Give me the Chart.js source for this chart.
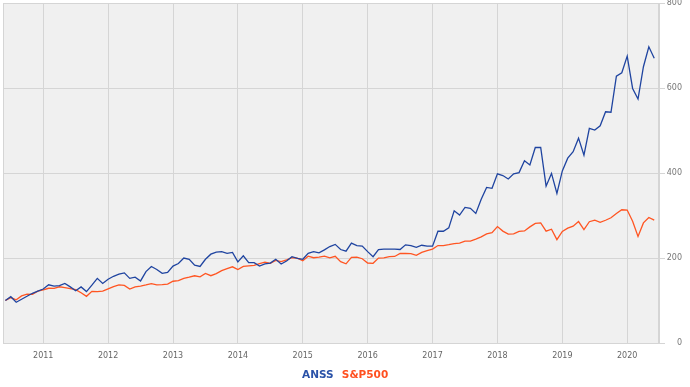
<!DOCTYPE html>
<html>
<head>
<meta charset="utf-8">
<script src="https://cdn.jsdelivr.net/npm/chart.js@4.4.0/dist/chart.umd.min.js"></script>
<style>
html, body { margin: 0; padding: 0; background: #fff; }
</style>
</head>
<body>
<canvas id="myChart" width="690" height="387"></canvas>
<script>
// monthly values, Jun 2010 .. Jun 2020, indexed to 100 at the start
const startYear = 2010
const startMonth = 6
const yearTicks = [2011, 2012, 2013, 2014, 2015, 2016, 2017, 2018, 2019, 2020]
const valueTicks = [0, 200, 400, 600, 800]

const anss = [
    100, 109, 96, 103, 110, 117, 122, 127, 137, 134,
    135, 140, 132, 123, 132, 121, 136, 152, 140, 150,
    157, 162, 165, 152, 155, 146, 168, 180, 173, 164,
    166, 181, 187, 200, 197, 183, 180, 197, 209, 214,
    215, 211, 213, 191, 205, 189, 189, 181, 186, 188,
    197, 186, 193, 203, 199, 197, 211, 215, 212, 219,
    227, 232, 220, 216, 235, 229, 228, 215, 203, 220,
    221, 221, 221, 220, 231, 229, 225, 230, 228, 228,
    263, 263, 271, 311, 301, 319, 317, 305, 338, 366,
    364, 398, 394, 386, 398, 401, 429, 419, 460, 460,
    369, 399, 352, 405, 435, 450, 482, 442, 505, 501,
    511, 544, 543, 628, 636, 675, 599, 574, 650, 697,
    670
]

const sp500 = [
    100.0, 106.9, 101.8, 110.7, 114.8, 114.5, 122.0,
    124.8, 128.8, 128.6, 132.3, 130.5, 128.1, 125.4, 118.3, 109.8, 121.6, 121.0, 122.0,
    127.3, 132.5, 136.7, 135.6, 127.1, 132.2, 133.8, 136.5, 139.8, 137.0, 137.4, 138.4,
    145.3, 147.0, 152.2, 155.0, 158.2, 155.8, 163.6, 158.4, 163.1, 170.4, 175.2, 179.3,
    172.9, 180.4, 181.7, 182.8, 186.6, 190.2, 187.3, 194.4, 191.4, 195.8, 200.6, 199.8,
    193.6, 204.2, 200.6, 202.3, 204.5, 200.2, 204.1, 191.3, 186.3, 201.7, 201.8, 198.3,
    188.2, 187.5, 199.8, 200.4, 203.4, 203.6, 210.9, 210.6, 210.4, 206.3, 213.3, 217.2,
    221.1, 229.3, 229.2, 231.3, 234.0, 235.1, 239.7, 239.8, 244.4, 249.9, 256.9, 259.4,
    274.0, 263.3, 256.2, 256.9, 262.5, 263.7, 273.2, 281.5, 282.7, 263.1, 267.8, 243.2,
    262.4, 270.2, 275.0, 285.8, 267.0, 285.4, 289.2, 283.9, 288.8, 294.7, 304.7, 313.5,
    312.9, 286.6, 250.8, 282.6, 295.4, 289.0
]

const monthToYear = (i) => startYear + (startMonth - 1 + i) / 12
const toPoints = (arr) => arr.map((v, i) => ({ x: monthToYear(i), y: v }))

const gridColor = '#d5d5d5'
const tickFont = { family: 'DejaVu Sans', size: 8 }

// grey plot background and frame
const plotFrame = {
    id: 'plotFrame',
    beforeDraw(chart) {
        const { ctx, chartArea: a } = chart
        ctx.save()
        ctx.fillStyle = '#f0f0f0'
        ctx.fillRect(a.left, a.top, a.right - a.left, a.bottom - a.top)
        ctx.restore()
    },
    beforeDatasetsDraw(chart) {
        const { ctx, chartArea: a } = chart
        ctx.save()
        ctx.strokeStyle = gridColor
        ctx.lineWidth = 1
        ctx.strokeRect(a.left + 0.5, a.top + 0.5, a.right - a.left - 1, a.bottom - a.top)
        ctx.restore()
    }
}

const ctx = document.getElementById('myChart').getContext('2d')
const myChart = new Chart(ctx, {
    type: 'line',
    data: {
        datasets: [{
            label: 'ANSS',
            data: toPoints(anss),
            borderColor: '#1f44a0',
            legendColor: '#2a52a8',
            borderWidth: 1.3,
            pointRadius: 0,
            tension: 0
        }, {
            label: 'S&P500',
            data: toPoints(sp500),
            borderColor: '#ff5522',
            legendColor: '#ff5020',
            borderWidth: 1.3,
            pointRadius: 0,
            tension: 0
        }]
    },
    options: {
        responsive: false,
        animation: false,
        devicePixelRatio: 1,
        layout: { padding: { top: 3, left: 3, right: 8, bottom: 0 } },
        plugins: {
            tooltip: { enabled: false },
            legend: {
                position: 'bottom',
                maxHeight: 20,
                labels: {
                    boxWidth: 0,
                    boxHeight: 0,
                    padding: 3,
                    font: { family: 'DejaVu Sans', size: 10.5, weight: 'bold' },
                    generateLabels: (chart) => chart.data.datasets.map((d, i) => ({
                        text: d.label,
                        fontColor: d.legendColor,
                        fillStyle: 'rgba(0,0,0,0)',
                        strokeStyle: 'rgba(0,0,0,0)',
                        lineWidth: 0,
                        hidden: false,
                        datasetIndex: i
                    }))
                }
            }
        },
        scales: {
            x: {
                type: 'linear',
                min: 2010.38,
                max: 2020.49,
                afterFit: (s) => { s.height = 24; s.paddingLeft = 0; s.paddingRight = 0 },
                afterBuildTicks: (s) => { s.ticks = yearTicks.map(v => ({ value: v })) },
                grid: { color: gridColor, drawTicks: false },
                border: { color: gridColor },
                ticks: {
                    padding: 8,
                    color: '#666',
                    font: tickFont,
                    maxRotation: 0,
                    autoSkip: false,
                    callback: (v) => String(v)
                }
            },
            y: {
                position: 'right',
                min: 0,
                max: 800,
                afterFit: (s) => { s.width = 23; s.paddingTop = 0; s.paddingBottom = 0 },
                afterBuildTicks: (s) => { s.ticks = valueTicks.map(v => ({ value: v })) },
                grid: { color: gridColor, tickLength: 6 },
                border: { color: gridColor },
                ticks: {
                    crossAlign: 'far',
                    padding: 2,
                    color: '#777',
                    font: tickFont,
                    callback: (v) => String(v)
                }
            }
        }
    },
    plugins: [plotFrame]
})
</script>
</body>
</html>
